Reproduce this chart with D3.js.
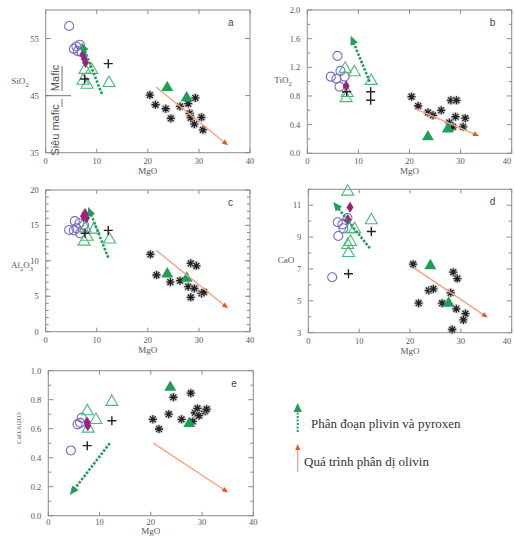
<!DOCTYPE html>
<html>
<head>
<meta charset="utf-8">
<script src="https://d3js.org/d3.v7.min.js"></script>
<style>
  body { margin: 0; background: #fff; }
  svg { font-family: "Liberation Serif", "DejaVu Serif", serif; }
</style>
</head>
<body>
<script>
// ---- data: [MgO, oxide] pairs ----
var mgoTicks = [0, 10, 20, 30, 40];

// a: SiO2
var aCircle = [[4.6,57.2],[5.5,53.2],[6.0,53.6],[6.3,52.8],[6.7,53.9],[7.0,52.6]];
var aOpenTri = [[7.7,49.5],[9.0,49.5],[7.3,47.6],[8.1,46.9],[12.4,47.2]];
var aPlus = [[12.25,50.6],[7.65,47.9]];
var aDiamond = [[7.3,52.2],[7.6,51.4],[7.8,50.8]];
var aStar = [[20.4,45.1],[21.5,43.4],[23.5,42.7],[24.5,41.0],[26.3,43.1],[27.9,43.6],[28.2,41.9],[28.4,41.1],[29.3,44.6],[29.1,40.0],[30.5,41.2],[30.8,39.0]];
var aFillTri = [[23.8,46.4],[27.6,44.6]];
var aGreenArrow = [[11.0,45.3],[7.0,54.3]];
var aOrangeArrow = [[21.6,46.5],[35.7,36.3]];

// b: TiO2
var bCircle = [[5.9,1.36],[4.6,1.07],[5.7,1.04],[6.5,1.15],[6.3,0.93],[7.3,1.07]];
var bOpenTri = [[7.4,1.18],[9.2,1.13],[12.5,1.01],[7.8,0.84],[7.6,0.77]];
var bPlus = [[7.7,0.86],[12.4,0.86],[12.4,0.74]];
var bDiamond = [[7.6,0.94]];
var bStar = [[20.4,0.79],[21.7,0.66],[23.6,0.57],[24.6,0.53],[26.2,0.60],[28.1,0.74],[29.2,0.74],[27.8,0.43],[28.5,0.37],[29.0,0.51],[30.9,0.49],[30.5,0.37]];
var bFillTri = [[23.6,0.23],[27.5,0.34]];
var bGreenArrow = [[12.2,1.0],[8.5,1.64]];
var bOrangeArrow = [[21.2,0.62],[33.6,0.24]];

// c: Al2O3
var cCircle = [[5.7,15.6],[4.6,14.35],[5.5,14.3],[6.0,14.6],[6.6,15.3],[6.7,13.9],[7.5,15.1]];
var cOpenTri = [[7.5,12.7],[8.1,13.4],[9.4,14.4],[12.5,13.0],[7.7,14.6]];
var cPlus = [[7.7,13.9],[12.25,14.3]];
var cDiamond = [[7.4,16.3],[7.7,16.7],[8.0,16.1]];
var cStar = [[20.5,10.9],[21.7,8.0],[24.4,7.0],[26.3,7.2],[28.4,9.65],[29.5,9.3],[27.9,6.35],[29.1,6.1],[28.4,4.85],[30.5,5.4],[31.0,5.6]];
var cFillTri = [[23.8,8.15],[27.6,7.55]];
var cGreenArrow = [[12.25,10.45],[8.3,17.6]];
var cOrangeArrow = [[21.6,11.5],[35.7,3.3]];

// d: CaO
var dCircle = [[5.8,9.93],[6.7,9.8],[6.9,9.55],[5.9,9.07],[4.7,6.48],[7.7,10.2]];
var dOpenTri = [[7.75,11.85],[12.4,10.05],[9.1,9.5],[8.1,9.5],[8.3,8.7],[7.75,8.5],[7.9,8.0]];
var dPlus = [[12.4,9.35],[7.9,6.7]];
var dDiamond = [[8.2,10.87],[7.75,10.1]];
var dStar = [[20.6,7.3],[21.7,4.85],[23.7,5.65],[24.6,5.75],[26.3,4.85],[28.5,6.8],[29.3,6.4],[28.0,5.5],[29.1,4.5],[30.9,4.2],[30.5,3.8],[28.3,3.2]];
var dFillTri = [[24.0,7.2],[27.6,4.85]];
var dGreenArrow = [[12.1,8.3],[4.9,11.2]];
var dOrangeArrow = [[20.85,7.05],[35.3,3.95]];

// e: CaO/Al2O3
var eCircle = [[4.4,0.45],[5.7,0.63],[6.5,0.675],[6.2,0.64]];
var eOpenTri = [[7.6,0.72],[12.4,0.785],[9.3,0.66],[7.8,0.60]];
var ePlus = [[12.4,0.655],[7.6,0.483]];
var eDiamond = [[7.6,0.645],[7.7,0.62]];
var eStar = [[20.4,0.665],[21.6,0.598],[23.5,0.70],[24.4,0.817],[26.0,0.665],[27.8,0.845],[28.2,0.65],[28.6,0.71],[29.1,0.74],[29.4,0.69],[30.6,0.72],[30.9,0.735]];
var eFillTri = [[23.8,0.885],[27.5,0.635]];
var eGreenArrow = [[12.0,0.50],[4.2,0.143]];
var eOrangeArrow = [[20.5,0.50],[35.1,0.16]];

// colours
var purple = "#7a68c6", green = "#1f9e5a", lightGreen = "#4cb877",
    magenta = "#9c237a", orangeLine = "#f6a283", orangeHead = "#ee4f1e";
var sans = "'Liberation Sans', Arial, sans-serif";

var svg = d3.select("body").append("svg")
    .attr("width", 514).attr("height", 537);

// panel frames and axes setup
var panels = [
  { id: "a", box: [45.7, 10, 250, 152.7], y: [35, 60], yMajor: [35, 45, 55], yMinor: [], fmt: d3.format("d"),
    circle: aCircle, openTri: aOpenTri, plus: aPlus, diamond: aDiamond, star: aStar, fillTri: aFillTri,
    green: aGreenArrow, orange: aOrangeArrow },
  { id: "b", box: [307.3, 10, 511.7, 153.3], y: [0, 2], yMajor: d3.range(0, 2.01, 0.4), yMinor: d3.range(0.2, 2, 0.4), fmt: d3.format(".1f"),
    circle: bCircle, openTri: bOpenTri, plus: bPlus, diamond: bDiamond, star: bStar, fillTri: bFillTri,
    green: bGreenArrow, orange: bOrangeArrow },
  { id: "c", box: [45.7, 190, 250, 331.7], y: [0, 20], yMajor: [0, 5, 10, 15, 20], yMinor: d3.range(1, 20, 1), fmt: d3.format("d"),
    circle: cCircle, openTri: cOpenTri, plus: cPlus, diamond: cDiamond, star: cStar, fillTri: cFillTri,
    green: cGreenArrow, orange: cOrangeArrow },
  { id: "d", box: [308.3, 189.3, 511.7, 332.7], y: [3, 12], yMajor: [3, 5, 7, 9, 11], yMinor: [4, 6, 8, 10, 12], fmt: d3.format("d"),
    circle: dCircle, openTri: dOpenTri, plus: dPlus, diamond: dDiamond, star: dStar, fillTri: dFillTri,
    green: dGreenArrow, orange: dOrangeArrow },
  { id: "e", box: [48.3, 370.7, 253.3, 515.7], y: [0, 1], yMajor: d3.range(0, 1.01, 0.2), yMinor: d3.range(0.1, 1, 0.2), fmt: d3.format(".1f"),
    circle: eCircle, openTri: eOpenTri, plus: ePlus, diamond: eDiamond, star: eStar, fillTri: eFillTri,
    green: eGreenArrow, orange: eOrangeArrow }
];

var triPath = d3.symbol(d3.symbolTriangle, 62)();
var circPath = d3.symbol(d3.symbolCircle, 64)();

function arrow(g, x, y, pts, color, headColor, width, dash, headLen, headW) {
  var x0 = x(pts[0][0]), y0 = y(pts[0][1]), x1 = x(pts[1][0]), y1 = y(pts[1][1]);
  var ang = Math.atan2(y1 - y0, x1 - x0);
  g.append("line")
    .attr("x1", x0).attr("y1", y0)
    .attr("x2", x1 - Math.cos(ang) * headLen * 0.6).attr("y2", y1 - Math.sin(ang) * headLen * 0.6)
    .attr("stroke", color).attr("stroke-width", width)
    .attr("stroke-dasharray", dash);
  g.append("path")
    .attr("d", "M0,0L" + (-headLen) + "," + (-headW / 2) + "L" + (-headLen) + "," + (headW / 2) + "Z")
    .attr("transform", "translate(" + x1 + "," + y1 + ") rotate(" + ang * 180 / Math.PI + ")")
    .attr("fill", headColor);
}

panels.forEach(function (p) {
  var L = p.box[0], T = p.box[1], R = p.box[2], B = p.box[3];
  var x = d3.scaleLinear().domain([0, 40]).range([L, R]);
  var y = d3.scaleLinear().domain(p.y).range([B, T]);
  var g = svg.append("g");
  // bottom panel sits close to the page edge, so its labels are packed tighter
  var tickOff = p.id === "e" ? 9 : 11, titleOff = p.id === "e" ? 18 : 21;

  // frame
  g.append("rect").attr("x", L).attr("y", T).attr("width", R - L).attr("height", B - T)
    .attr("fill", "none").attr("stroke", "#8a8a8a").attr("stroke-width", 1);

  // inward ticks on all four sides
  var ticks = g.append("g").attr("stroke", "#8a8a8a").attr("stroke-width", 1);
  mgoTicks.forEach(function (v) {
    ticks.append("line").attr("x1", x(v)).attr("x2", x(v)).attr("y1", B).attr("y2", B - 4);
    ticks.append("line").attr("x1", x(v)).attr("x2", x(v)).attr("y1", T).attr("y2", T + 4);
  });
  p.yMajor.forEach(function (v) {
    ticks.append("line").attr("x1", L).attr("x2", L + 5).attr("y1", y(v)).attr("y2", y(v));
    ticks.append("line").attr("x1", R).attr("x2", R - 5).attr("y1", y(v)).attr("y2", y(v));
  });
  p.yMinor.forEach(function (v) {
    ticks.append("line").attr("x1", L).attr("x2", L + 3).attr("y1", y(v)).attr("y2", y(v));
    ticks.append("line").attr("x1", R).attr("x2", R - 3).attr("y1", y(v)).attr("y2", y(v));
  });

  // tick labels
  g.selectAll(".xl").data(mgoTicks).enter().append("text")
    .attr("x", function (d) { return Math.min(x(d), 507); }).attr("y", B + tickOff)
    .attr("text-anchor", "middle").attr("font-size", 8.5).attr("fill", "#555")
    .text(function (d) { return d; });
  g.selectAll(".yl").data(p.yMajor).enter().append("text")
    .attr("x", L - 7).attr("y", function (d) { return y(d) + 3; })
    .attr("text-anchor", "end").attr("font-size", 8.5).attr("fill", "#555")
    .text(function (d) { return p.fmt(d); });
  g.append("text").attr("x", (L + R) / 2).attr("y", B + titleOff)
    .attr("text-anchor", "middle").attr("font-size", 9).attr("fill", "#555").text("MgO");

  // panel letter
  g.append("text").attr("x", R - 22).attr("y", T + 16)
    .style("font-family", sans)
    .attr("font-size", 10).attr("fill", "#444").text(p.id);

  // points
  g.selectAll(".c").data(p.circle).enter().append("path").attr("d", circPath)
    .attr("transform", function (d) { return "translate(" + x(d[0]) + "," + y(d[1]) + ")"; })
    .attr("fill", "none").attr("stroke", purple).attr("stroke-width", 1.1);
  g.selectAll(".ot").data(p.openTri).enter().append("path").attr("d", triPath)
    .attr("transform", function (d) { return "translate(" + x(d[0]) + "," + y(d[1]) + ")"; })
    .attr("fill", "none").attr("stroke", lightGreen).attr("stroke-width", 1.1);
  g.selectAll(".pl").data(p.plus).enter().append("path").attr("d", "M-4.5,0H4.5M0,-4.5V4.5")
    .attr("transform", function (d) { return "translate(" + x(d[0]) + "," + y(d[1]) + ")"; })
    .attr("stroke", "#222").attr("stroke-width", 1.4);
  g.selectAll(".dm").data(p.diamond).enter().append("path").attr("d", "M0,-5.5L3.5,0L0,5.5L-3.5,0Z")
    .attr("transform", function (d) { return "translate(" + x(d[0]) + "," + y(d[1]) + ")"; })
    .attr("fill", magenta);
  var st = g.selectAll(".st").data(p.star).enter().append("g")
    .attr("transform", function (d) { return "translate(" + x(d[0]) + "," + y(d[1]) + ")"; });
  st.append("circle").attr("r", 4.8).attr("fill", "#bbb").attr("opacity", 0.6);
  st.append("path").attr("d", "M-4,0H4M0,-4V4M-2.9,-2.9L2.9,2.9M-2.9,2.9L2.9,-2.9")
    .attr("stroke", "#222").attr("stroke-width", 1.3);
  g.selectAll(".ft").data(p.fillTri).enter().append("path").attr("d", triPath)
    .attr("transform", function (d) { return "translate(" + x(d[0]) + "," + y(d[1]) + ")"; })
    .attr("fill", green);

  // trend arrows
  arrow(g, x, y, p.orange, orangeLine, orangeHead, 1.4, null, 6, 5);
  arrow(g, x, y, p.green, green, green, 2.6, "2.5,1.5", 9, 8);

  // y label for e (rotated)
  if (p.id === "e") {
    g.append("text").attr("transform", "translate(" + 21 + "," + 428 + ") rotate(-90)")
      .attr("text-anchor", "middle").attr("font-size", 6.5).attr("fill", "#555")
      .text("CaO/Al2O3");
  }
});

// y labels with subscripts
function yLabel(xc, yb, parts) {
  var t = svg.append("text").attr("x", xc).attr("y", yb)
    .attr("text-anchor", "middle").attr("font-size", 9).attr("fill", "#555");
  parts.forEach(function (s, i) {
    var ts = t.append("tspan").text(s[0]);
    if (s[1]) ts.attr("font-size", 6.5).attr("dy", 2.5);
    else ts.attr("dy", i > 0 ? -2.5 : 0);
  });
}
yLabel(20, 84, [["SiO", false], ["2", true]]);
yLabel(283, 83, [["TiO", false], ["2", true]]);
yLabel(22, 268, [["Al", false], ["2", true], ["O", false], ["3", true]]);
svg.append("text").attr("x", 286).attr("y", 263).attr("text-anchor", "middle")
  .attr("font-size", 9).attr("fill", "#555").text("CaO");

// Siêu mafic | Mafic marker in panel a
var ga = svg.append("g");
ga.append("line").attr("x1", 45.7).attr("x2", 71).attr("y1", 95.7).attr("y2", 95.7)
  .attr("stroke", "#777").attr("stroke-width", 1);
ga.append("line").attr("x1", 62).attr("x2", 62).attr("y1", 66).attr("y2", 91)
  .attr("stroke", "#777").attr("stroke-width", 1);
ga.append("line").attr("x1", 62).attr("x2", 62).attr("y1", 99).attr("y2", 107)
  .attr("stroke", "#777").attr("stroke-width", 1);
ga.append("text").attr("transform", "translate(59,78) rotate(-90)")
  .attr("text-anchor", "middle").style("font-family", sans)
  .attr("font-size", 11).attr("fill", "#555").text("Mafic");
ga.append("text").attr("transform", "translate(59,130) rotate(-90)")
  .attr("text-anchor", "middle").style("font-family", sans)
  .attr("font-size", 11).attr("fill", "#555").text("Siêu mafic");

// legend
var lg = svg.append("g");
lg.append("line").attr("x1", 297.7).attr("x2", 297.7).attr("y1", 432).attr("y2", 411)
  .attr("stroke", green).attr("stroke-width", 2).attr("stroke-dasharray", "2,1.5");
lg.append("path").attr("d", "M297.7,403L293.5,412L301.9,412Z").attr("fill", green);
lg.append("text").attr("x", 311).attr("y", 428).attr("font-size", 13).attr("fill", "#333")
  .text("Phân đoạn plivin và pyroxen");
lg.append("line").attr("x1", 297.7).attr("x2", 297.7).attr("y1", 472).attr("y2", 449)
  .attr("stroke", orangeLine).attr("stroke-width", 1.3);
lg.append("path").attr("d", "M297.7,444L295.2,450L300.2,450Z").attr("fill", orangeHead);
lg.append("text").attr("x", 304).attr("y", 466).attr("font-size", 13).attr("fill", "#333")
  .text("Quá trình phân dị olivin");
</script>
</body>
</html>
